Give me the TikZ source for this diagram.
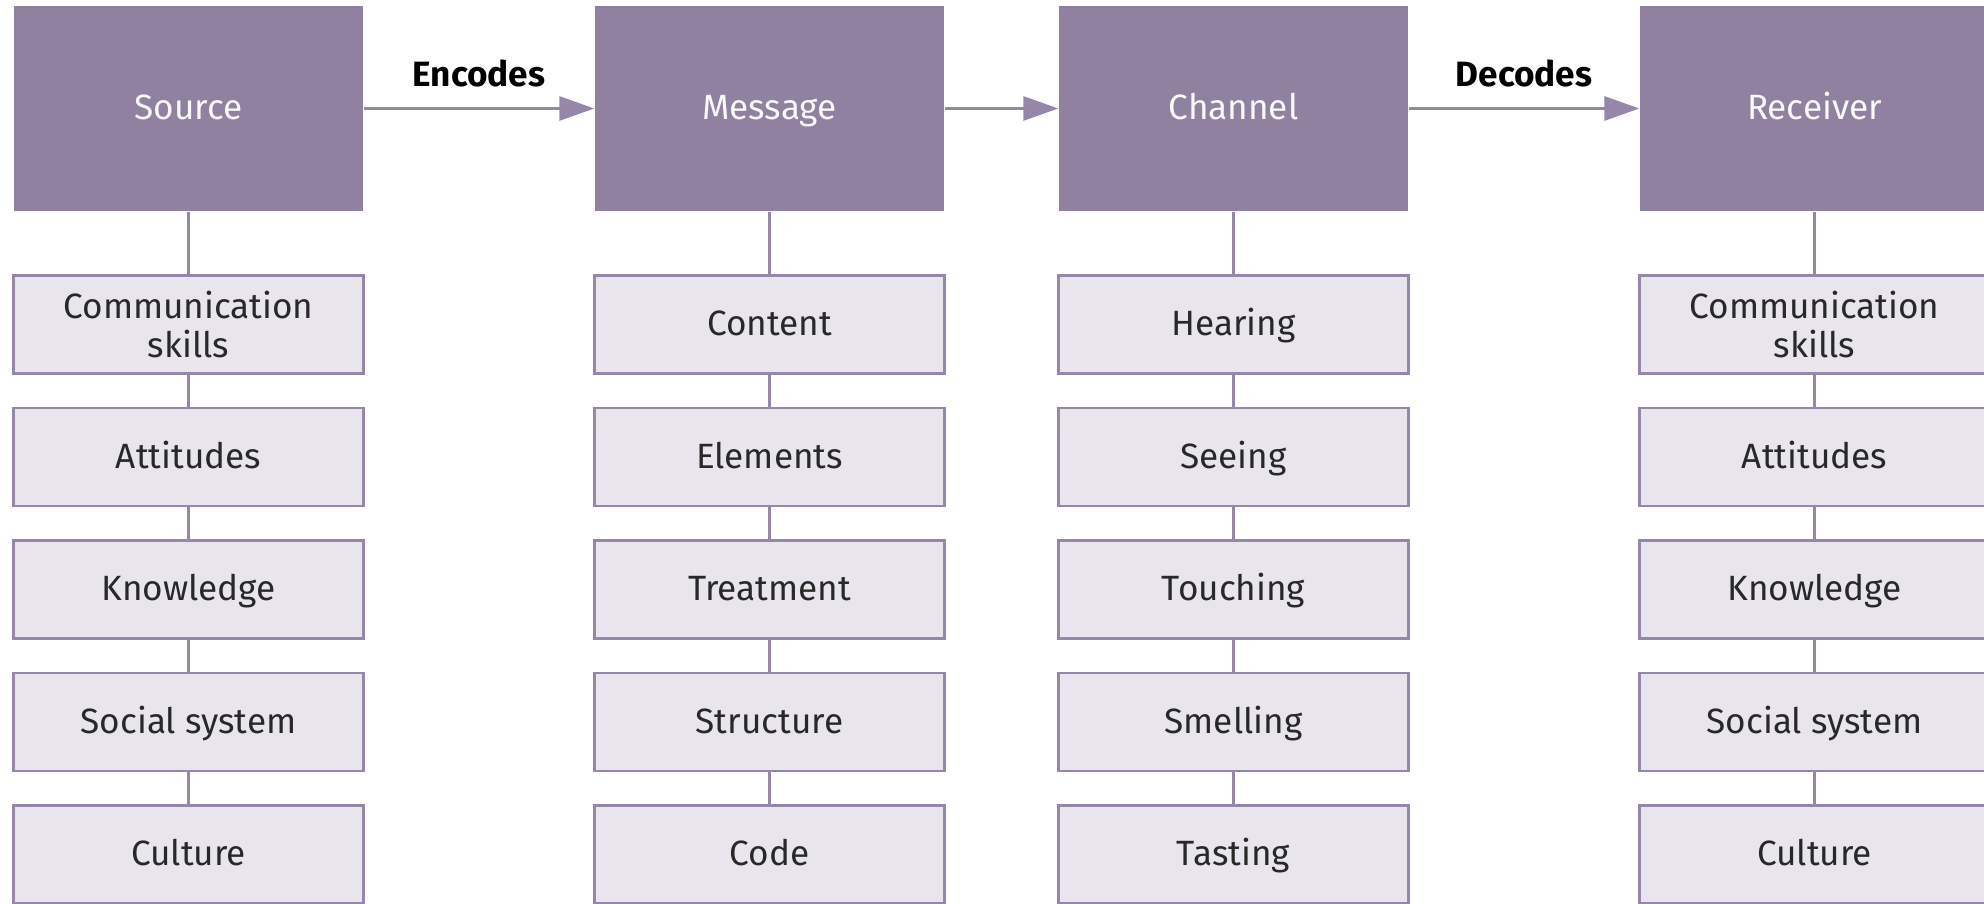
\documentclass[tikz,border=0pt]{standalone}
\usepackage{fontspec}
\setmainfont{Fira Sans}
\usepackage{xcolor}
\usepackage{tikz}
\usetikzlibrary{calc}
\usetikzlibrary{arrows.meta}

\definecolor{headfill}{RGB}{143,129,159}
\definecolor{subfill}{RGB}{232,230,236}
\definecolor{linecol}{RGB}{150,135,170}
\definecolor{subtext}{RGB}{40,40,40}

\begin{document}
\begin{tikzpicture}
	\useasboundingbox (0,0) rectangle (19.84,9.03);
	\clip (0,0) rectangle (19.84,9.03);

	\begin{scope}[every node/.style={rectangle,fill=headfill,text=white!95!headfill,minimum width=3.49cm,minimum height=2.05cm,inner sep=0pt,text height=1.5ex,text depth=0.3ex,font=\fontsize{10}{11}\selectfont}]
	\node (S) at (1.885,7.945) {Source};
	\node (M) at (7.695,7.945) {Message};
	\node (C) at (12.335,7.945) {Channel};
	\node (R) at (18.145,7.945) {Receiver};
	\end{scope}

	\begin{scope}[every node/.style={rectangle,draw=linecol,line width=0.6pt,fill=subfill,text=subtext,minimum width=3.5cm,minimum height=0.98cm,inner sep=0pt,align=center,text height=1.5ex,text depth=0.3ex,font=\fontsize{10}{11}\selectfont}]
	\node[text height=,text depth=] (S1) at (1.885,5.785) {Communication\\skills};
	\node (S2) at (1.885,4.46) {Attitudes};
	\node (S3) at (1.885,3.135) {Knowledge};
	\node (S4) at (1.885,1.81) {Social system};
	\node (S5) at (1.885,0.485) {Culture};

	\node (M1) at (7.695,5.785) {Content};
	\node (M2) at (7.695,4.46) {Elements};
	\node (M3) at (7.695,3.135) {Treatment};
	\node (M4) at (7.695,1.81) {Structure};
	\node (M5) at (7.695,0.485) {Code};

	\node (C1) at (12.335,5.785) {Hearing};
	\node (C2) at (12.335,4.46) {Seeing};
	\node (C3) at (12.335,3.135) {Touching};
	\node (C4) at (12.335,1.81) {Smelling};
	\node (C5) at (12.335,0.485) {Tasting};

	\node[text height=,text depth=] (R1) at (18.145,5.785) {Communication\\skills};
	\node (R2) at (18.145,4.46) {Attitudes};
	\node (R3) at (18.145,3.135) {Knowledge};
	\node (R4) at (18.145,1.81) {Social system};
	\node (R5) at (18.145,0.485) {Culture};
	\end{scope}

	\begin{scope}[>={Triangle[length=3.5mm,width=2.4mm,linecol]},
	every node/.style={inner sep=0pt,text=black,font=\fontsize{10}{11}\selectfont\bfseries},
	every edge/.style={draw=linecol,line width=0.85pt}]
	\path [->] (S) edge node[above=0.2cm] {Encodes} (M);
	\path [->] (M) edge (C);
	\path [->] (C) edge node[above=0.2cm] {Decodes} (R);

	% columns
	\path [-] (S) edge (S1) (S1) edge (S2) (S2) edge (S3) (S3) edge (S4) (S4) edge (S5);
	\path [-] (M) edge (M1) (M1) edge (M2) (M2) edge (M3) (M3) edge (M4) (M4) edge (M5);
	\path [-] (C) edge (C1) (C1) edge (C2) (C2) edge (C3) (C3) edge (C4) (C4) edge (C5);
	\path [-] (R) edge (R1) (R1) edge (R2) (R2) edge (R3) (R3) edge (R4) (R4) edge (R5);
	\end{scope}
\end{tikzpicture}
\end{document}
